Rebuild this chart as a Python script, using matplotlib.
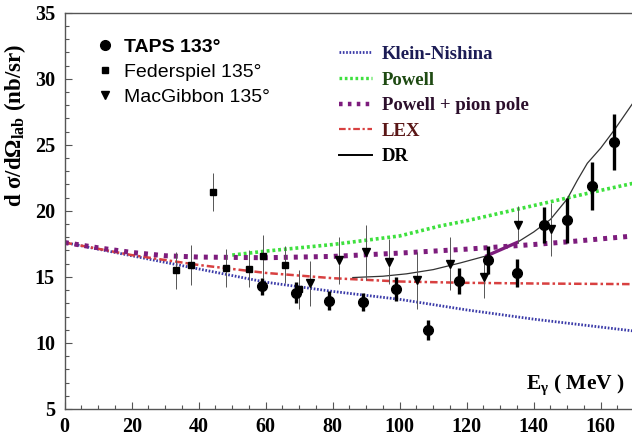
import matplotlib
matplotlib.use("Agg")
import matplotlib.pyplot as plt
from matplotlib.lines import Line2D
from matplotlib.ticker import MultipleLocator

plt.rcParams["mathtext.fontset"] = "custom"
plt.rcParams["mathtext.rm"] = "Liberation Serif:bold"
plt.rcParams["mathtext.it"] = "Liberation Serif:bold"
plt.rcParams["mathtext.bf"] = "Liberation Serif:bold"

# --- measured cross sections -------------------------------------------------
taps_e = [59, 69, 79, 89, 99, 108.5, 117.7, 126.5, 135, 143, 150, 157.5, 164]
taps_xs = [14.3, 13.8, 13.2, 13.1, 14.1, 11.0, 14.7, 16.3, 15.3, 18.95, 19.3, 21.9, 25.2]
taps_err = [0.65, 0.8, 0.7, 0.7, 0.9, 0.75, 1.0, 1.05, 1.05, 1.35, 1.7, 1.8, 2.1]

fed_e = [33.2, 37.7, 44.4, 48.1, 55.1, 59.3, 65.9, 70.0]
fed_xs = [15.5, 15.9, 21.4, 15.65, 15.6, 16.55, 15.9, 14.05]
fed_err = [1.4, 1.5, 1.45, 1.45, 1.4, 1.6, 1.4, 1.45]

mac_e = [73.2, 82.0, 89.8, 96.9, 105.2, 115.1, 125.2, 135.3, 145.1]
mac_xs = [14.5, 16.25, 16.85, 16.15, 14.75, 16.0, 15.0, 18.95, 18.6]
mac_err = [1.7, 1.8, 2.1, 1.7, 2.15, 2.0, 1.6, 1.4, 2.0]

# --- model curves --------------------------------------------------------------
kn_e = [0, 20, 40, 60, 80, 100, 120, 140, 160, 170]
kn_xs = [17.6, 16.6, 15.6, 14.6, 13.9, 13.3, 12.5, 11.8, 11.2, 10.9]

pow_e = [50, 60, 80, 100, 112, 120, 140, 160, 170]
pow_xs = [16.65, 16.95, 17.45, 18.1, 18.85, 19.25, 20.4, 21.55, 22.1]

pp_e = [0, 10, 20, 30, 40, 60, 80, 100, 120, 140, 150, 170]
pp_xs = [17.6, 17.2, 16.85, 16.6, 16.5, 16.45, 16.55, 16.8, 17.1, 17.45, 17.65, 18.1]

lex_e = [0, 20, 40, 60, 80, 100, 120, 140, 170]
lex_xs = [17.6, 16.65, 15.9, 15.3, 14.9, 14.65, 14.55, 14.5, 14.45]

dr_e = [86, 95, 102, 110, 118, 126, 135, 140, 145, 150, 153, 156, 160, 164, 170]
dr_xs = [14.95, 15.05, 15.23, 15.55, 16.05, 16.6, 17.6, 18.4, 19.35, 20.9, 22.3, 23.6, 24.75, 26.1, 28.3]

# short highlighted piece of the DR curve
seg_e = [126, 135]
seg_xs = [16.6, 17.6]

x_ticks = [0, 20, 40, 60, 80, 100, 120, 140, 160]
y_ticks = [5, 10, 15, 20, 25, 30, 35]

# --- colours -------------------------------------------------------------------
c_kn = "#3a3aa8"
c_pow = "#3ee03e"
c_pp = "#7d1c7d"
c_lex = "#d84040"

fig = plt.figure(figsize=(6.32, 4.37), dpi=100)
ax = fig.add_axes([0.1024, 0.0641, 0.9011, 0.9069])

serif = ["Liberation Serif", "DejaVu Serif"]
sans = ["Liberation Sans", "DejaVu Sans"]

ax.plot(kn_e, kn_xs, color=c_kn, lw=2.0, ls=(0, (0.6, 0.6)), zorder=2)
ax.plot(pow_e, pow_xs, color=c_pow, lw=2.6, ls=(0, (0.8, 0.8)), zorder=2)
ax.plot(lex_e, lex_xs, color=c_lex, lw=1.8, ls=(0, (3, 1.2, 1, 1.2)), zorder=2)
ax.plot(pp_e, pp_xs, color=c_pp, lw=3.6, ls=(0, (0.8, 1.2)), zorder=2)
ax.plot(dr_e, dr_xs, color="#333333", lw=0.9, zorder=3)
ax.plot(seg_e, seg_xs, color=c_pp, lw=2.4, zorder=3)

ax.errorbar(fed_e, fed_xs, yerr=fed_err, fmt="s", color="black", ms=5,
            elinewidth=0.7, ecolor="#555555", capsize=0, zorder=4)
ax.errorbar(mac_e, mac_xs, yerr=mac_err, fmt="v", color="black", ms=5.5,
            elinewidth=0.7, ecolor="#555555", capsize=0, zorder=4)
ax.errorbar(taps_e, taps_xs, yerr=taps_err, fmt="o", color="black", ms=7,
            elinewidth=2.4, capsize=0, zorder=5)

ax.set_xlim(0, 170)
ax.set_ylim(5, 35)
ax.set_xticks(x_ticks)
ax.set_yticks(y_ticks)
ax.xaxis.set_minor_locator(MultipleLocator(5))
ax.yaxis.set_minor_locator(MultipleLocator(1))
ax.tick_params(which="both", direction="in", color="#555555", width=0.8)
ax.tick_params(which="major", length=5)
ax.tick_params(which="minor", length=3)
ax.tick_params(axis="x", pad=6)
ax.tick_params(axis="y", pad=7)
for lab in ax.get_xticklabels() + ax.get_yticklabels():
    lab.set_fontfamily(serif)
    lab.set_fontweight("bold")
    lab.set_fontsize(14.5)

for s in ["left", "bottom", "top"]:
    ax.spines[s].set_color("#555555")
    ax.spines[s].set_linewidth(1.0)
ax.spines["right"].set_visible(False)

ax.set_ylabel(r"d $\sigma$/d$\Omega_{\mathrm{lab}}$ (nb/sr)", family=serif,
              fontweight="bold", fontsize=16.5)
ax.yaxis.set_label_coords(-0.064, 0.715)
ax.text(0.984, 0.062, r"E$_\gamma$ ( MeV )", transform=ax.transAxes, ha="right",
        va="center", family=serif, fontweight="bold", fontsize=15.5)

# data legend
h_data = [
    Line2D([], [], marker="o", ls="none", color="black", ms=7),
    Line2D([], [], marker="s", ls="none", color="black", ms=5),
    Line2D([], [], marker="v", ls="none", color="black", ms=5.5),
]
leg1 = ax.legend(h_data, ["TAPS 133°", "Federspiel 135°", "MacGibbon 135°"],
                 loc="upper left", bbox_to_anchor=(0.04, 0.955), frameon=False,
                 prop={"family": sans, "size": 14}, handlelength=1.0,
                 handletextpad=0.5, labelspacing=0.38, borderaxespad=0)
leg1.get_texts()[0].set_fontweight("bold")
ax.add_artist(leg1)

# model legend
h_mod = [
    Line2D([], [], color=c_kn, lw=2.0, ls=(0, (0.6, 0.6))),
    Line2D([], [], color=c_pow, lw=2.4, ls=(0, (0.8, 0.8))),
    Line2D([], [], color=c_pp, lw=3.2, ls=(0, (0.8, 1.2))),
    Line2D([], [], color=c_lex, lw=1.6, ls=(0, (3, 1.2, 1, 1.2))),
    Line2D([], [], color="black", lw=1.4),
]
leg2 = ax.legend(h_mod, ["Klein-Nishina", "Powell", "Powell + pion pole", "LEX", "DR"],
                 loc="upper left", bbox_to_anchor=(0.468, 0.935), frameon=False,
                 prop={"family": serif, "size": 13.5, "weight": "bold"},
                 handlelength=1.8, handletextpad=0.5, labelspacing=0.45,
                 borderaxespad=0)
for t, c in zip(leg2.get_texts(), ["#1c1c55", "#1e4a12", "#2c0f2c", "#5a1616", "black"]):
    t.set_color(c)

fig.savefig("out.png", dpi=100)
